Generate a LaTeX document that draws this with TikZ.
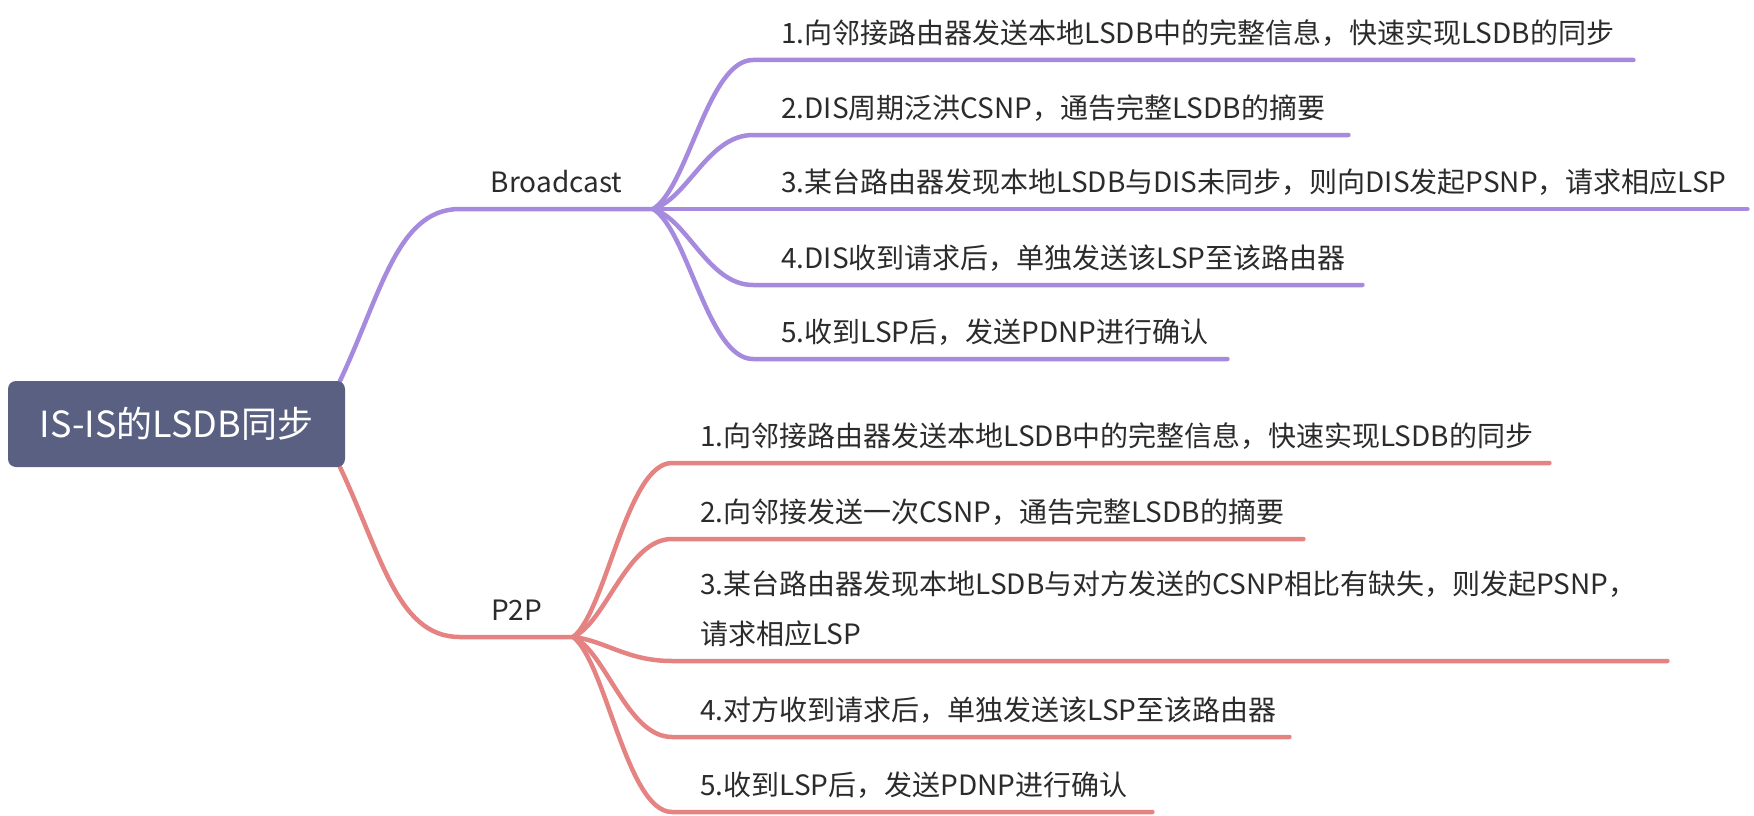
\documentclass[tikz,border=0pt]{standalone}
\usepackage{fontspec}
\setmainfont{Noto Sans CJK SC}
\usepackage{xcolor}
\usepackage{tikz}
\usetikzlibrary{positioning, calc, backgrounds}
\definecolor{mmroot}{HTML}{5A6082}
\definecolor{mmpurple}{HTML}{A58ADE}
\definecolor{mmred}{HTML}{E58383}
\definecolor{mmtext}{HTML}{2B2B2B}

\begin{document}
\begin{tikzpicture}[
  x=1pt, y=-1pt,
  root/.style={
    rectangle, rounded corners=8pt, fill=mmroot, text=white,
    minimum width=337pt, minimum height=86pt,
    font=\fontsize{36}{40}\selectfont
  },
  branch/.style={
    anchor=south, inner xsep=0pt, inner ysep=10pt, text depth=6.5pt,
    text=mmtext, font=\fontsize{28}{34}\selectfont
  },
  leaf/.style={
    anchor=south west, align=left, inner xsep=28pt, inner ysep=10pt,
    text depth=6.5pt, text=mmtext, font=\fontsize{28}{50}\selectfont
  },
  bcline/.style={draw=mmpurple, line width=4.5pt, line cap=round},
  ppline/.style={draw=mmred, line width=4.5pt, line cap=round},
]
\useasboundingbox (0,0) rectangle (1754,816);

% Racine
\node[root] (root) at (176.5,424) {IS-IS的LSDB同步};

% Branches
\node[branch, minimum width=193pt] (bc) at (556.5,209) {Broadcast};
\node[branch, minimum width=113pt] (pp) at (516.5,637) {P2P};

% Broadcast
\node[leaf, text width=824pt] (b1) at (753,60) {1.向邻接路由器发送本地LSDB中的完整信息，快速实现LSDB的同步};
\node[leaf, text width=539pt] (b2) at (753,135) {2.DIS周期泛洪CSNP，通告完整LSDB的摘要};
\node[leaf, text width=938pt] (b3) at (753,209) {3.某台路由器发现本地LSDB与DIS未同步，则向DIS发起PSNP，请求相应LSP};
\node[leaf, text width=553pt] (b4) at (753,285) {4.DIS收到请求后，单独发送该LSP至该路由器};
\node[leaf, text width=418pt] (b5) at (753,359) {5.收到LSP后，发送PDNP进行确认};

% P2P
\node[leaf, text width=821pt] (p1) at (672,463) {1.向邻接路由器发送本地LSDB中的完整信息，快速实现LSDB的同步};
\node[leaf, text width=575pt] (p2) at (672,539) {2.向邻接发送一次CSNP，通告完整LSDB的摘要};
\node[leaf, text width=939pt, text depth=56.5pt] (p3) at (672,661) {3.某台路由器发现本地LSDB与对方发送的CSNP相比有缺失，则发起PSNP，\\请求相应LSP};
\node[leaf, text width=561pt] (p4) at (672,737) {4.对方收到请求后，单独发送该LSP至该路由器};
\node[leaf, text width=424pt] (p5) at (672,812) {5.收到LSP后，发送PDNP进行确认};

\begin{scope}[on background layer]
% Racine vers branches
\draw[bcline] ($(root.north east)+(-10,10)$) .. controls +(45,-91) and +(-65,0) .. (bc.south west) -- (bc.south east);
\draw[ppline] ($(root.south east)+(-10,-10)$) .. controls +(45,91) and +(-65,0) .. (pp.south west) -- (pp.south east);

% Branches vers feuilles
\foreach \n/\dy in {b1/-22, b2/-11, b4/11, b5/22}
  \draw[bcline] (bc.south east) .. controls +(35,\dy) and +(-45,0) .. (\n.south west) -- (\n.south east);
\draw[bcline] (bc.south east) -- (b3.south east);

\foreach \n/\dy in {p1/-26, p2/-15, p3/4, p4/15, p5/26}
  \draw[ppline] (pp.south east) .. controls +(33,\dy) and +(-45,0) .. (\n.south west) -- (\n.south east);
\end{scope}

\end{tikzpicture}
\end{document}
